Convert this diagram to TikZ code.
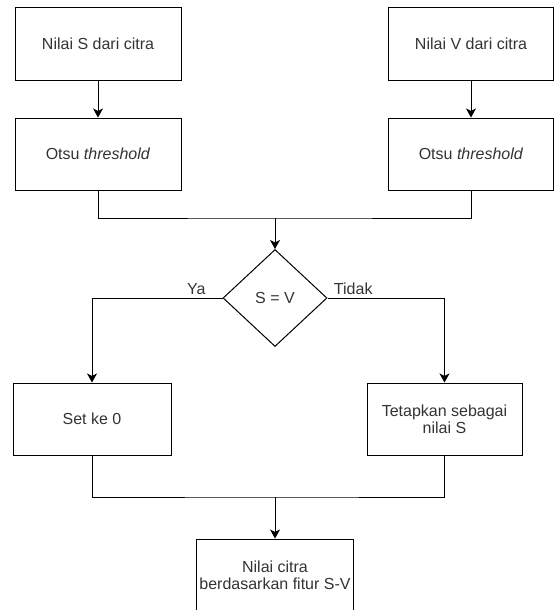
\documentclass[tikz,border=0pt]{standalone}
\usepackage{fontspec}
\setmainfont{Liberation Sans}
\usetikzlibrary{positioning, arrows.meta, shapes.geometric}
\definecolor{textgray}{RGB}{51,51,51}

\begin{document}
\begin{tikzpicture}[
  x=1pt, y=1pt,
  node distance=37pt and 0pt,
  procbox/.style={draw, line width=1pt, minimum width=166pt, minimum height=72pt,
                  align=center, text=textgray, font=\fontsize{16}{17}\selectfont},
  decision/.style={draw, diamond, line width=1pt, minimum width=104pt, minimum height=97pt,
                   inner sep=0pt, text=textgray, font=\fontsize{16}{17}\selectfont},
  arrow/.style={-{Stealth[length=9pt, width=10pt, inset=2.5pt]}, line width=1pt},
  line/.style={line width=1pt},
  lbl/.style={text=textgray, font=\fontsize{16}{17}\selectfont}
]
  \useasboundingbox (0,0) rectangle (554,-610);
  \node[procbox] (sval) at (98,-44) {Nilai S dari citra};
  \node[procbox, below=of sval] (sotsu) {Otsu \textit{threshold}};
  \node[procbox, minimum width=165pt] (vval) at (471,-44) {Nilai V dari citra};
  \node[procbox, minimum width=165pt, below=of vval] (votsu) {Otsu \textit{threshold}};
  \node[decision] (dec) at (275,-298) {S = V};
  \node[procbox, minimum width=158pt] (zero) at (92,-419) {Set ke 0};
  \node[procbox, minimum width=155pt] (keep) at (444.5,-419) {Tetapkan sebagai\\nilai S};
  \node[procbox, minimum width=156pt] (result) at (275,-575) {Nilai citra\\berdasarkan fitur S-V};
  \coordinate (join1) at (275,-218);
  \coordinate (join2) at (275,-497);

  \draw[arrow] (sval) -- (sotsu);
  \draw[arrow] (vval) -- (votsu);
  \draw[line] (sotsu.south) |- (join1) -| (votsu.south);
  \draw[arrow] (join1) -- (dec.north);
  \draw[arrow] (dec.west) -| (zero.north) node[lbl, pos=0.1, above] {Ya};
  \draw[arrow] (dec.east) -| (keep.north) node[lbl, pos=0.11, above] {Tidak};
  \draw[line] (zero.south) |- (join2) -| (keep.south);
  \draw[arrow] (join2) -- (result.north);
\end{tikzpicture}
\end{document}
